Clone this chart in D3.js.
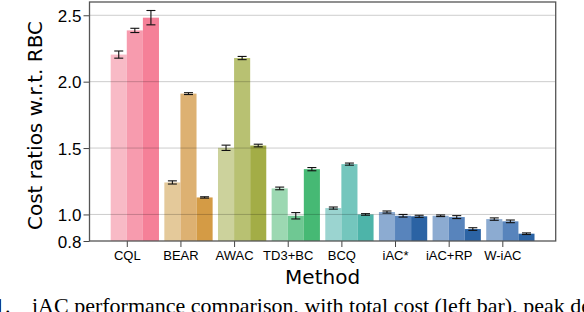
<!DOCTYPE html>
<html>
<head>
<meta charset="utf-8">
<script src="https://cdn.jsdelivr.net/npm/d3@7"></script>
<style>
  body { margin: 0; background: #fff; }
  svg { display: block; font-family: "DejaVu Sans", sans-serif; }
</style>
</head>
<body>
<div id="chart"></div>
<script>
// methods and the three bars of every group
const methods = ["CQL", "BEAR", "AWAC", "TD3+BC", "BCQ", "iAC*", "iAC+RP", "W-iAC"]
const totalCost  = [2.204, 1.241, 1.502, 1.196, 1.048, 1.018, 0.990, 0.965]
const peakDemand = [2.386, 1.910, 2.178, 0.990, 1.379, 0.990, 0.980, 0.948]
const rightBar   = [2.482, 1.128, 1.519, 1.341, 1.000, 0.986, 0.890, 0.855]
const totalErr   = [0.027, 0.012, 0.020, 0.010, 0.008, 0.008, 0.006, 0.009]
const peakErr    = [0.016, 0.007, 0.012, 0.024, 0.008, 0.010, 0.011, 0.010]
const rightErr   = [0.054, 0.005, 0.010, 0.012, 0.006, 0.008, 0.010, 0.006]
const yTicks = [0.8, 1.0, 1.5, 2.0, 2.5]

const palette = [
    ["#f8bac6", "#f79bae", "#f58098"],
    ["#e4c99a", "#ddb172", "#d49b45"],
    ["#ccd29c", "#b8c172", "#a3ad46"],
    ["#9cd8b2", "#6fc893", "#46b974"],
    ["#9bd4d0", "#74c6bd", "#4db4a9"],
    ["#8cabd1", "#5884bc", "#2b63a4"],
    ["#8cabd1", "#5884bc", "#2b63a4"],
    ["#8cabd1", "#5884bc", "#2b63a4"]
]

const series = [totalCost, peakDemand, rightBar]
const errs = [totalErr, peakErr, rightErr]
const barW = 0.3

const width = 584, height = 312
const marginLeft = 89.5, marginRight = 28.3, marginTop = 2, marginBottom = 71

const svg = d3.select("#chart").append("svg")
    .attr("width", width)
    .attr("height", height)

const x = d3.scaleLinear()
    .domain([-0.695, 7.995])
    .range([marginLeft, width - marginRight])
const y = d3.scaleLinear()
    .domain([0.8, 2.6])
    .range([height - marginBottom, marginTop])

// bars
const rows = []
methods.forEach((m, i) => {
    series.forEach((s, j) => {
        rows.push({i: i, j: j, v: s[i], e: errs[j][i], c: palette[i][j]})
    })
})

svg.append("g").selectAll("rect")
    .data(rows)
    .join("rect")
    .attr("x", d => x(d.i - barW + d.j * barW))
    .attr("width", d => x(barW) - x(0))
    .attr("y", d => y(d.v))
    .attr("height", d => y(0.8) - y(d.v))
    .attr("fill", d => d.c)

// grid lines drawn over the bars, faint
svg.append("g").selectAll("line")
    .data(yTicks.slice(1))
    .join("line")
    .attr("x1", marginLeft).attr("x2", width - marginRight)
    .attr("y1", d => y(d)).attr("y2", d => y(d))
    .attr("stroke", "#000")
    .attr("stroke-opacity", 0.2)
    .attr("stroke-width", 1)

// error bars
const eb = svg.append("g").attr("stroke", "#111").attr("stroke-width", 1.1)
rows.forEach(d => {
    const cx = x(d.i - barW + d.j * barW + barW / 2)
    eb.append("line").attr("x1", cx).attr("x2", cx).attr("y1", y(d.v - d.e)).attr("y2", y(d.v + d.e))
    eb.append("line").attr("x1", cx - 4.5).attr("x2", cx + 4.5).attr("y1", y(d.v - d.e)).attr("y2", y(d.v - d.e))
    eb.append("line").attr("x1", cx - 4.5).attr("x2", cx + 4.5).attr("y1", y(d.v + d.e)).attr("y2", y(d.v + d.e))
})

// axes
const yAxis = svg.append("g")
    .attr("transform", "translate(" + marginLeft + ",0)")
    .call(d3.axisLeft(y).tickValues(yTicks).tickFormat(d3.format(".1f")).tickSize(6).tickPadding(2))
yAxis.select(".domain").remove()
yAxis.selectAll("line").attr("stroke", "#444")
yAxis.selectAll("text").style("font-size", "17px").attr("fill", "#000").attr("dy", "0.36em")

const xAxis = svg.append("g")
    .attr("transform", "translate(0," + (height - marginBottom) + ")")
    .call(d3.axisBottom(x).tickValues(d3.range(methods.length)).tickFormat(i => methods[i]).tickSize(6).tickPadding(4))
xAxis.select(".domain").remove()
xAxis.selectAll("line").attr("stroke", "#444")
xAxis.selectAll("text").style("font-size", "13px").attr("fill", "#000")

// frame
svg.append("rect")
    .attr("x", marginLeft).attr("y", marginTop)
    .attr("width", width - marginLeft - marginRight)
    .attr("height", height - marginTop - marginBottom)
    .attr("fill", "none")
    .attr("stroke", "#555")
    .attr("stroke-width", 1.3)

// axis titles
svg.append("text")
    .attr("text-anchor", "middle")
    .attr("x", (marginLeft + width - marginRight) / 2)
    .attr("y", 283.5)
    .style("font-size", "20px")
    .text("Method")

svg.append("text")
    .attr("text-anchor", "middle")
    .attr("transform", "translate(42," + 125.5 + ") rotate(-90)")
    .style("font-size", "20px")
    .text("Cost ratios w.r.t. RBC")

// caption from the paper, cut at the bottom as in the source
svg.append("text")
    .attr("x", -6).attr("y", 313)
    .style("font-family", "'Liberation Serif', serif")
    .style("font-size", "22px")
    .text("1.")
svg.append("text")
    .attr("x", 32).attr("y", 313)
    .style("font-family", "'Liberation Serif', serif")
    .style("font-size", "22px")
    .text("iAC performance comparison, with total cost (left bar), peak demand (middle bar)")
</script>
</body>
</html>
